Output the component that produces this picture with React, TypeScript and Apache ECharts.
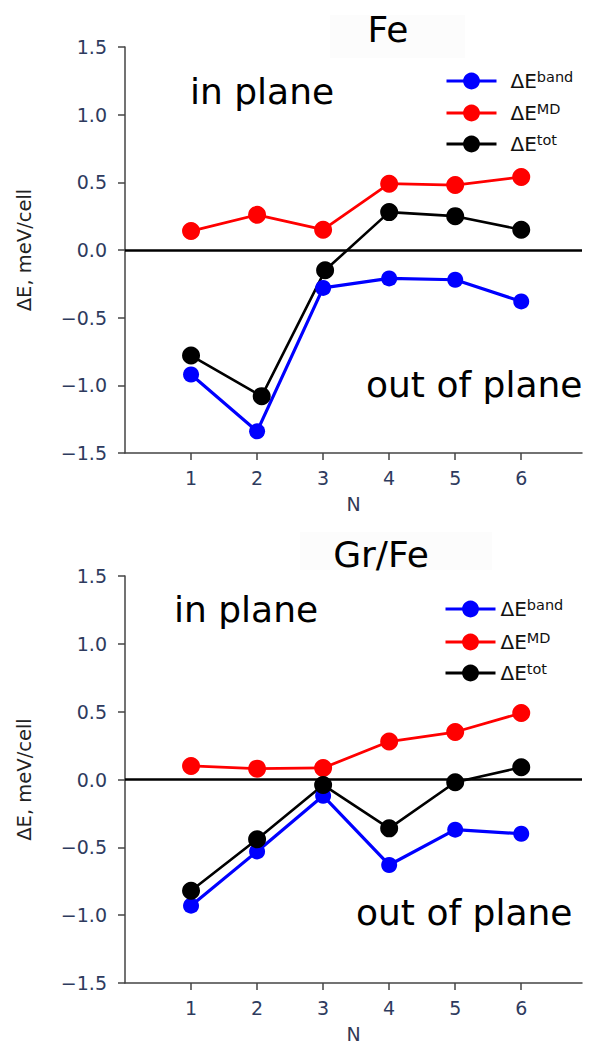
import React, { useEffect, useRef } from "react";
import * as echarts from "echarts";

// ---- data ----
const nValues = [1, 2, 3, 4, 5, 6];
const xTicks = [1, 2, 3, 4, 5, 6];

const feBand = [-0.92, -1.34, -0.28, -0.21, -0.22, -0.38];
const feMD = [0.14, 0.26, 0.15, 0.49, 0.48, 0.54];
const feTot = [-0.78, -1.08, -0.15, 0.28, 0.25, 0.15];
const feTotN = [1, 2.07, 3.03, 4, 5, 6];

const grBand = [-0.93, -0.53, -0.12, -0.63, -0.37, -0.4];
const grMD = [0.1, 0.08, 0.085, 0.28, 0.35, 0.49];
const grTot = [-0.82, -0.44, -0.04, -0.36, -0.02, 0.09];

const seriesNames = ["band", "MD", "tot"];
const seriesColors = ["#0000ff", "#ff0000", "#000000"];
const titles = ["Fe", "Gr/Fe"];
const yName = "ΔE, meV/cell";
const xName = "N";

const FONT = "DejaVu Sans";

const pair = (xs: number[], ys: number[]) => xs.map((x, i) => [x, ys[i]]);

export default function App() {
  const ref = useRef<HTMLDivElement>(null);
  useEffect(() => {
    if (!ref.current) return;
    const chart = echarts.init(ref.current, null, { renderer: "svg" });

    const grids = [
      { left: 125, top: 47, width: 457, height: 406 },
      { left: 125, top: 576, width: 457, height: 407 },
    ];

    const tickColor = "#2e3b5e";
    const xAxes = grids.map((_, i) => ({
      type: "value",
      gridIndex: i,
      min: 0,
      max: 6.92,
      name: xName,
      nameLocation: "middle",
      nameGap: 41,
      nameTextStyle: { fontFamily: FONT, fontSize: 19, color: "#333a55" },
      axisLine: { show: true, onZero: false, lineStyle: { color: "#444", width: 1.5 } },
      axisTick: { show: true, length: 7, customValues: xTicks, lineStyle: { color: "#444", width: 1.5 } },
      axisLabel: { customValues: xTicks, margin: 15, fontFamily: FONT, fontSize: 19, color: tickColor },
      splitLine: { show: false },
    }));
    const yAxes = grids.map((_, i) => ({
      type: "value",
      gridIndex: i,
      min: -1.5,
      max: 1.5,
      interval: 0.5,
      name: yName,
      nameLocation: "middle",
      nameGap: 91,
      nameTextStyle: { fontFamily: FONT, fontSize: 19.5, color: "#222" },
      axisLine: { show: true, lineStyle: { color: "#444", width: 1.5 } },
      axisTick: { show: true, length: 7, lineStyle: { color: "#444", width: 1.5 } },
      axisLabel: {
        margin: 18,
        fontFamily: FONT,
        fontSize: 19,
        color: tickColor,
        formatter: (v: number) => (v < 0 ? "\u2212" : "") + Math.abs(v).toFixed(1),
      },
      splitLine: { show: false },
    }));

    const mkSeries = (name: string, color: string, data: number[][], gi: number, size: number, width: number, zero: boolean) => ({
      type: "line",
      name,
      xAxisIndex: gi,
      yAxisIndex: gi,
      data,
      symbol: "circle",
      symbolSize: size,
      lineStyle: { color, width },
      itemStyle: { color },
      z: 3,
      markLine: zero
        ? {
            silent: true,
            symbol: ["none", "none"],
            label: { show: false },
            lineStyle: { color: "#000", width: 2.5, type: "solid" },
            data: [{ yAxis: 0 }],
            z: 2,
          }
        : undefined,
    });

    const series = [
      mkSeries("band", seriesColors[0], pair(nValues, feBand), 0, 16, 3.2, false),
      mkSeries("MD", seriesColors[1], pair(nValues, feMD), 0, 18, 2.8, true),
      mkSeries("tot", seriesColors[2], pair(feTotN, feTot), 0, 18, 2.6, false),
      mkSeries("band", seriesColors[0], pair(nValues, grBand), 1, 16, 3.2, false),
      mkSeries("MD", seriesColors[1], pair(nValues, grMD), 1, 18, 2.8, true),
      mkSeries("tot", seriesColors[2], pair(nValues, grTot), 1, 18, 2.6, false),
    ];

    const legendTops = [
      [76, 108, 139],
      [604, 637, 668],
    ];
    const legendLeft = [440, 439];
    const legendPad = [9, 0];
    const legends: any[] = [];
    legendTops.forEach((tops, gi) => {
      tops.forEach((cy, k) => {
        legends.push({
          show: true,
          left: legendLeft[gi],
          top: cy - 12,
          data: [seriesNames[k]],
          itemWidth: 50,
          itemHeight: 21,
          selectedMode: false,
          lineStyle: { width: 3 },
          formatter: (n: string) => `{d|ΔE}{s|${n}}`,
          textStyle: {
            rich: {
              d: { fontFamily: FONT, fontSize: 20, color: "#111", lineHeight: 24, padding: [0, 0, 0, legendPad[gi]] },
              s: { fontFamily: FONT, fontSize: 14.5, color: "#111", verticalAlign: "top", lineHeight: 15 },
            },
          },
        });
      });
    });

    const txt = (text: string, x: number, y: number, size: number, align = "left") => ({
      type: "text",
      x,
      y,
      z: 10,
      style: { text, fontFamily: FONT, fontSize: size, fill: "#000", textAlign: align, textVerticalAlign: "middle" },
    });

    chart.setOption({
      animation: false,
      backgroundColor: "#ffffff",
      grid: grids,
      xAxis: xAxes,
      yAxis: yAxes,
      legend: legends,
      series,
      graphic: [
        { type: "rect", shape: { x: 330, y: 15, width: 135, height: 43 }, style: { fill: "#fcfcfc" }, z: 0 },
        { type: "rect", shape: { x: 300, y: 532, width: 192, height: 38 }, style: { fill: "#fcfcfc" }, z: 0 },
        txt(titles[0], 388, 29, 36, "center"),
        txt(titles[1], 381, 554, 36, "center"),
        txt("in plane", 190, 91, 36),
        txt("out of plane", 366, 384, 36),
        txt("in plane", 174, 609, 36),
        txt("out of plane", 356, 912, 36),
      ],
    });
    return () => chart.dispose();
  }, []);
  return (
    <div
      ref={ref}
      style={{ position: "absolute", left: 0, top: 0, width: 593, height: 1044, background: "#fff" }}
    />
  );
}
